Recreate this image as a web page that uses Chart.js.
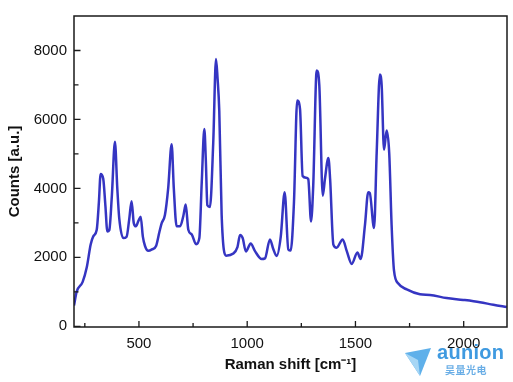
<!DOCTYPE html>
<html>
<head>
<meta charset="utf-8">
<script src="https://cdn.jsdelivr.net/npm/chart.js@4.4.1/dist/chart.umd.min.js"></script>
<style>
  html, body { margin: 0; padding: 0; background: #fff; }
  #wrap { position: relative; width: 513px; height: 382px; }
  #wm { position: absolute; left: 404px; top: 343px; width: 109px; height: 36px; pointer-events: none; }
  #wm .brand { position: absolute; left: 33px; top: -2px; font: bold 20px "Liberation Sans", Arial, sans-serif; color: #3f9ae0; letter-spacing: 0.3px; }
  #wm .cn { position: absolute; left: 41px; top: 19px; font: bold 10px "Noto Sans CJK SC", sans-serif; color: #6aaee6; letter-spacing: 0.5px; }
</style>
</head>
<body>
<div id="wrap">
  <canvas id="c" width="513" height="382"></canvas>
  <div id="wm">
    <svg width="28" height="30" style="position:absolute;left:0;top:4px">
      <polygon points="1,6 27,1 16,29" fill="#5fb0ea"/>
      <polygon points="1,6 14,13 16,29" fill="#a6d6f5"/>
    </svg>
    <span class="brand">aunion</span>
    <span class="cn">昊量光电</span>
  </div>
</div>
<script>
// Raman shift (cm^-1)
const ramanShift = [200, 212, 240, 259, 277, 289, 305, 315, 323, 335, 345, 354, 363, 375, 389, 400, 409, 428, 443, 455, 466, 476, 486, 497, 508, 518, 528, 543, 560, 579, 595, 605, 620, 635, 651, 661, 674, 690, 705, 716, 728, 744, 764, 779, 790, 802, 809, 816, 828, 843, 856, 863, 871, 882, 902, 936, 955, 967, 979, 994, 1016, 1036, 1067, 1082, 1105, 1120, 1136, 1155, 1173, 1190, 1201, 1216, 1231, 1244, 1256, 1272, 1282, 1295, 1305, 1321, 1333, 1349, 1359, 1375, 1383, 1398, 1413, 1441, 1460, 1483, 1509, 1524, 1544, 1559, 1566, 1586, 1598, 1613, 1621, 1632, 1644, 1656, 1667, 1678, 1698, 1737, 1798, 1844, 1921, 1998, 2075, 2137, 2199];
// Counts (a.u.)
const counts = [600, 1000, 1290, 1710, 2370, 2610, 2800, 3600, 4420, 4280, 3500, 2750, 2790, 3800, 5350, 4000, 3130, 2560, 2600, 3100, 3630, 3000, 2900, 3050, 3180, 2600, 2330, 2190, 2230, 2330, 2750, 2990, 3230, 4000, 5280, 4000, 2900, 2900, 3200, 3530, 2800, 2660, 2380, 2560, 4170, 5720, 4800, 3510, 3460, 5300, 7750, 7200, 6250, 3230, 2050, 2110, 2300, 2650, 2560, 2170, 2400, 2180, 1950, 1970, 2520, 2250, 2040, 2600, 3890, 2230, 2200, 3600, 6550, 6300, 4360, 4310, 4270, 3040, 4080, 7420, 7000, 3790, 4270, 4880, 4270, 2370, 2280, 2520, 2180, 1810, 2140, 1950, 2940, 3890, 3870, 2850, 5020, 7300, 7000, 5120, 5680, 5020, 2940, 1620, 1240, 1070, 930, 910, 820, 766, 700, 624, 560];

const xTicks = [500, 1000, 1500, 2000];
const xMinorTicks = [250, 750, 1250, 1750];
const yTicks = [0, 2000, 4000, 6000, 8000];
const yMinorTicks = [1000, 3000, 5000, 7000];

const FONT = "'Liberation Sans', Arial, Helvetica, sans-serif";

const framePlugin = {
  id: 'frame',
  afterDraw(chart) {
    const ctx = chart.ctx;
    const a = chart.chartArea;
    const xs = chart.scales.x, ys = chart.scales.y;
    ctx.save();
    ctx.strokeStyle = '#1a1a1a';
    ctx.lineWidth = 1.5;
    ctx.strokeRect(a.left, a.top, a.right - a.left, a.bottom - a.top);
    ctx.lineWidth = 1.3;
    ctx.beginPath();
    const tick = (v, len, horiz) => {
      if (horiz) {
        const px = xs.getPixelForValue(v);
        ctx.moveTo(px, a.bottom); ctx.lineTo(px, a.bottom - len);
      } else {
        const py = ys.getPixelForValue(v);
        ctx.moveTo(a.left, py); ctx.lineTo(a.left + len, py);
      }
    };
    xTicks.forEach(v => tick(v, 6, true));
    xMinorTicks.forEach(v => tick(v, 4, true));
    yTicks.forEach(v => tick(v, 6.5, false));
    yMinorTicks.forEach(v => tick(v, 4.5, false));
    ctx.stroke();
    ctx.restore();
  }
};

new Chart(document.getElementById('c'), {
  type: 'line',
  data: {
    datasets: [{
      data: ramanShift.map((x, i) => ({ x: x, y: counts[i] })),
      borderColor: '#3535c2',
      borderWidth: 2.5,
      pointRadius: 0,
      fill: false,
      cubicInterpolationMode: 'monotone'
    }]
  },
  options: {
    responsive: false,
    animation: false,
    layout: { padding: { top: 10, right: 6, left: 0, bottom: 0 } },
    plugins: { legend: { display: false }, tooltip: { enabled: false } },
    scales: {
      x: {
        type: 'linear',
        min: 200, max: 2200,
        afterBuildTicks(s) { s.ticks = xTicks.map(v => ({ value: v })); },
        afterFit(s) { s.height = 55; },
        grid: { display: false, drawTicks: false },
        border: { display: false },
        ticks: { font: { family: FONT, size: 15 }, color: '#111', padding: 8, maxRotation: 0, callback: v => String(v) },
        title: { display: true, text: 'Raman shift [cm⁻¹]', font: { family: FONT, size: 15, weight: 'bold' }, color: '#111', padding: { top: 0, bottom: 8 } }
      },
      y: {
        min: -20, max: 9000,
        afterBuildTicks(s) { s.ticks = yTicks.map(v => ({ value: v })); },
        afterFit(s) { s.width = 74; },
        grid: { display: false, drawTicks: false },
        border: { display: false },
        ticks: { font: { family: FONT, size: 15 }, color: '#111', padding: 7, callback: v => String(v) },
        title: { display: true, text: 'Counts [a.u.]', font: { family: FONT, size: 15, weight: 'bold' }, color: '#111', padding: { top: 6, bottom: 0 } }
      }
    }
  },
  plugins: [framePlugin]
});
</script>
</body>
</html>
